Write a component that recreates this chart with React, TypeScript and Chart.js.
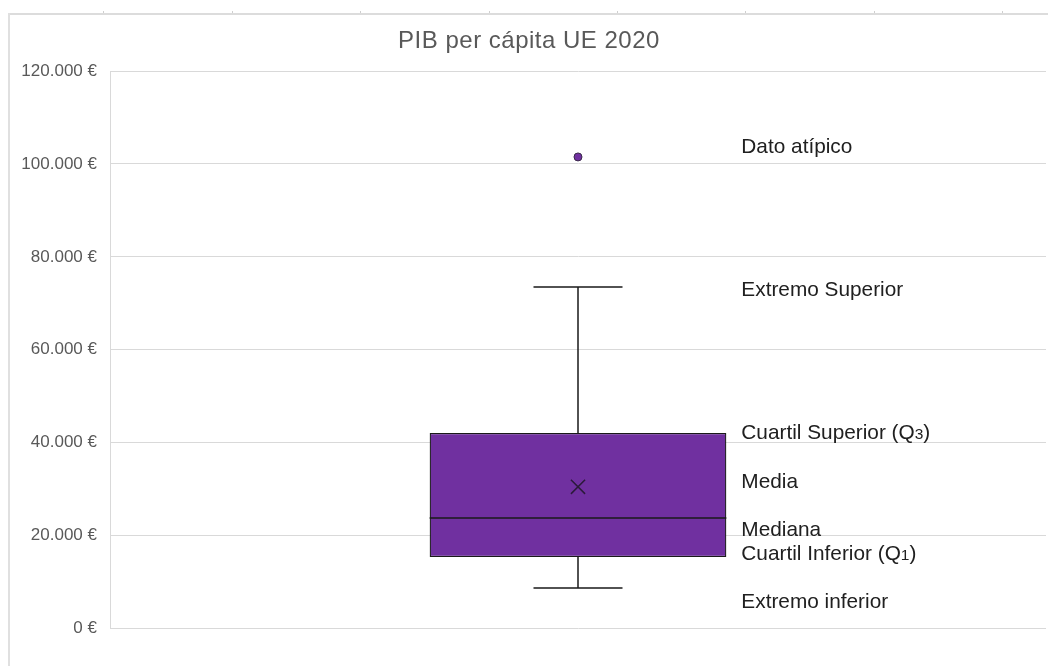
import React, { useEffect, useRef } from "react";
import { Chart, registerables } from "chart.js";

Chart.register(...registerables);

// ---------- data ----------
const CATEGORIES = [""];
const Q1_VALUES = [15400];
const Q3_VALUES = [42100];
const MEDIAN_VALUES = [23800];
const MEAN_VALUES = [30500];
const WHISKER_LOW = [8700];
const WHISKER_HIGH = [73500];
const OUTLIER_VALUES = [101500];

const Y_MIN = 0;
const Y_MAX = 120000;
const Y_STEP = 20000;

const TITLE = "PIB per cápita UE 2020";

// annotation labels: [main text, subscript, closing text]
const ANNOTATION_TEXTS = [
  ["Dato atípico", "", ""],
  ["Extremo Superior", "", ""],
  ["Cuartil Superior (Q", "3", ")"],
  ["Media", "", ""],
  ["Mediana", "", ""],
  ["Cuartil Inferior (Q", "1", ")"],
  ["Extremo inferior", "", ""],
];
const ANNOTATION_VALUES = [103800, 73000, 42300, 31800, 21500, 16300, 5900];

const FONT = '"Liberation Sans", Arial, sans-serif';
const PURPLE = "#7030A0";
const DARK = "#1a1a1a";

function formatEuro(v: number): string {
  const s = Math.round(v).toString().replace(/\B(?=(\d{3})+(?!\d))/g, ".");
  return s + " €";
}

const boxPlugin = {
  id: "boxWhiskers",
  afterDatasetsDraw(chart: any) {
    const meta = chart.getDatasetMeta(0);
    const y = chart.scales.y;
    const ctx = chart.ctx;
    meta.data.forEach((bar: any, i: number) => {
      const { x, width } = bar.getProps(["x", "width"], true);
      const half = width / 2;
      const capHalf = width * 0.15;
      const pQ1 = y.getPixelForValue(Q1_VALUES[i]);
      const pQ3 = y.getPixelForValue(Q3_VALUES[i]);
      const pMed = y.getPixelForValue(MEDIAN_VALUES[i]);
      const pLow = y.getPixelForValue(WHISKER_LOW[i]);
      const pHigh = y.getPixelForValue(WHISKER_HIGH[i]);
      ctx.save();
      ctx.strokeStyle = DARK;
      ctx.lineWidth = 1.5;
      ctx.beginPath();
      ctx.moveTo(x, pQ3);
      ctx.lineTo(x, pHigh);
      ctx.moveTo(x - capHalf, pHigh);
      ctx.lineTo(x + capHalf, pHigh);
      ctx.moveTo(x, pQ1);
      ctx.lineTo(x, pLow);
      ctx.moveTo(x - capHalf, pLow);
      ctx.lineTo(x + capHalf, pLow);
      ctx.moveTo(x - half, pMed);
      ctx.lineTo(x + half, pMed);
      ctx.stroke();
      ctx.restore();
    });
  },
};

const annotationPlugin = {
  id: "boxAnnotations",
  afterDraw(chart: any) {
    const meta = chart.getDatasetMeta(0);
    const bar = meta.data[0];
    if (!bar) return;
    const { x, width } = bar.getProps(["x", "width"], true);
    const y = chart.scales.y;
    const ctx = chart.ctx;
    const startX = x + width / 2 + 15;
    ctx.save();
    ctx.fillStyle = "#202020";
    ctx.textBaseline = "alphabetic";
    ctx.textAlign = "left";
    ANNOTATION_TEXTS.forEach((parts, i) => {
      const py = y.getPixelForValue(ANNOTATION_VALUES[i]) + 7;
      let cx = startX;
      ctx.font = `20.8px ${FONT}`;
      ctx.fillText(parts[0], cx, py);
      cx += ctx.measureText(parts[0]).width;
      if (parts[1]) {
        ctx.font = `15.5px ${FONT}`;
        ctx.fillText(parts[1], cx, py);
        cx += ctx.measureText(parts[1]).width;
      }
      if (parts[2]) {
        ctx.font = `20.8px ${FONT}`;
        ctx.fillText(parts[2], cx, py);
      }
    });
    // title
    ctx.font = `24px ${FONT}`;
    ctx.fillStyle = "#595959";
    ctx.textAlign = "center";
    try {
      (ctx as any).letterSpacing = "0.5px";
    } catch (e) {}
    ctx.fillText(TITLE, 529, 48);
    ctx.restore();
  },
};

export default function App() {
  const canvasRef = useRef<HTMLCanvasElement | null>(null);

  useEffect(() => {
    if (!canvasRef.current) return;
    const chart = new Chart(canvasRef.current, {
      type: "bar",
      data: {
        labels: CATEGORIES,
        datasets: [
          {
            type: "bar",
            label: "Caja",
            data: CATEGORIES.map((_, i) => [Q1_VALUES[i], Q3_VALUES[i]]) as any,
            backgroundColor: PURPLE,
            borderColor: DARK,
            borderWidth: 1.3,
            borderSkipped: false,
            barPercentage: 0.317,
            categoryPercentage: 1,
            order: 3,
          },
          {
            type: "line",
            label: "Media",
            data: MEAN_VALUES,
            showLine: false,
            pointStyle: "crossRot",
            pointRadius: 10,
            pointBorderWidth: 1.5,
            pointBorderColor: "#2b1a3a",
            pointBackgroundColor: "#2b1a3a",
            order: 1,
          } as any,
          {
            type: "line",
            label: "Dato atípico",
            data: OUTLIER_VALUES,
            showLine: false,
            pointStyle: "circle",
            pointRadius: 4,
            pointBorderWidth: 1,
            pointBorderColor: "#3a2a4a",
            pointBackgroundColor: PURPLE,
            order: 2,
          } as any,
        ],
      },
      options: {
        animation: false,
        responsive: true,
        maintainAspectRatio: false,
        layout: {
          autoPadding: false,
          padding: { left: 0, right: 2, top: 71, bottom: 37.5 },
        },
        plugins: {
          legend: { display: false },
          title: { display: false },
          tooltip: { enabled: false },
        },
        scales: {
          x: {
            display: false,
            offset: true,
          },
          y: {
            min: Y_MIN,
            max: Y_MAX,
            ticks: {
              stepSize: Y_STEP,
              padding: 13,
              color: "#595959",
              font: { family: FONT, size: 17 },
              callback: (v: any) => formatEuro(Number(v)),
            },
            grid: { color: "#d9d9d9", lineWidth: 1, drawTicks: false },
            border: { display: true, color: "#d9d9d9", width: 1 },
            afterFit: (scale: any) => {
              scale.width = 110;
            },
          },
        },
      } as any,
      plugins: [boxPlugin, annotationPlugin],
    });
    return () => chart.destroy();
  }, []);

  const tickXs = [103, 232, 360, 489, 617, 745, 874, 1002];

  return (
    <div
      style={{
        position: "fixed",
        left: 0,
        top: 0,
        width: 1048,
        height: 666,
        background: "#ffffff",
        overflow: "hidden",
      }}
    >
      <canvas ref={canvasRef} />
      <div
        style={{
          position: "absolute",
          left: 8,
          top: 13,
          width: 1040,
          height: 2,
          background: "#dcdcdc",
        }}
      />
      <div
        style={{
          position: "absolute",
          left: 8,
          top: 13,
          width: 2,
          height: 653,
          background: "#e0e0e0",
        }}
      />
      {tickXs.map((tx) => (
        <div
          key={tx}
          style={{
            position: "absolute",
            left: tx,
            top: 11,
            width: 1,
            height: 2,
            background: "#cfcfcf",
          }}
        />
      ))}
    </div>
  );
}
